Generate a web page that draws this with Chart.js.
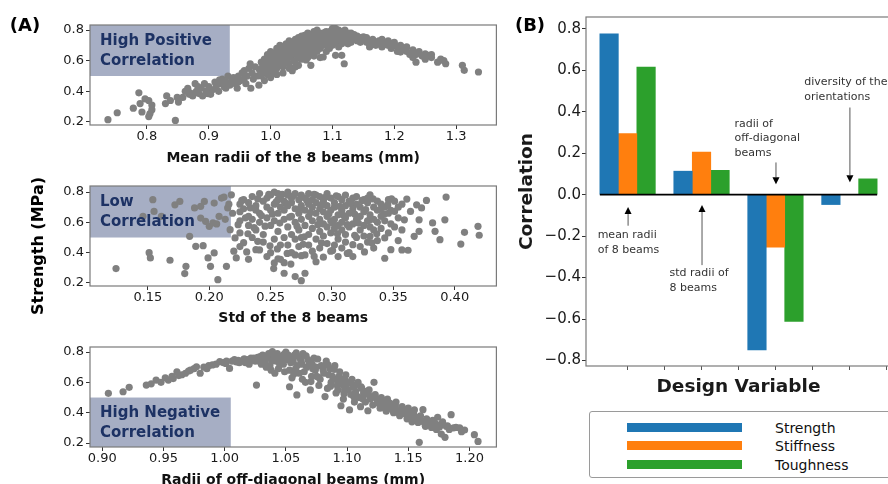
<!DOCTYPE html>
<html><head><meta charset="utf-8">
<script src="https://cdn.jsdelivr.net/npm/chart.js@4.4.0/dist/chart.umd.min.js"></script>
<style>
html,body{margin:0;padding:0;background:#fff;}
#wrap{position:relative;width:888px;height:484px;overflow:hidden;background:#fff;font-family:"DejaVu Sans",sans-serif;}
canvas{position:absolute;}
.lbl{position:absolute;white-space:nowrap;color:#000;line-height:1;}
.c{transform:translate(-50%,-50%);}
#legend{position:absolute;left:589px;top:411px;width:320px;height:67px;border:1px solid #9a9a9a;border-radius:3px;box-sizing:border-box;}
.lbar{position:absolute;left:37px;width:115px;height:9px;}
.ltxt{position:absolute;left:185px;font-size:14px;line-height:1;color:#111;transform:translateY(-50%);}
</style></head><body>
<div id="wrap">
<canvas id="a1" width="500" height="175" style="left:0;top:0"></canvas>
<canvas id="a2" width="500" height="175" style="left:0;top:161px"></canvas>
<canvas id="a3" width="500" height="175" style="left:0;top:322px"></canvas>
<canvas id="b" width="400" height="410" style="left:500px;top:0"></canvas>
<div class="lbl c" style="left:25px;top:25px;font-size:18px;font-weight:bold">(A)</div>
<div class="lbl c" style="left:530px;top:25px;font-size:18px;font-weight:bold">(B)</div>
<div class="lbl" style="left:38px;top:246px;font-size:16px;font-weight:bold;transform:translate(-50%,-50%) rotate(-90deg)">Strength (MPa)</div>
<div id="legend"></div>
</div>
<script>
// ---------------- DATA ----------------
const meanRadiiPts = [
[0.737,0.215],[0.752,0.26],[0.778,0.29],[0.787,0.39],[0.789,0.32],[0.792,0.265],[0.797,0.35],[0.803,0.34],[0.803,0.235],[0.805,0.255],[0.808,0.31],[0.808,0.28],[0.830,0.32],[0.832,0.37],[0.838,0.34],[0.846,0.21],[0.849,0.36],[0.851,0.33],
[0.858,0.36],[0.862,0.40],[0.866,0.42],[0.870,0.39],[0.874,0.37],[0.878,0.45],[0.880,0.40],[0.884,0.385],[0.888,0.42],[0.890,0.37],[0.893,0.45],[0.896,0.40],[0.900,0.43],[0.903,0.38],[0.906,0.41],[0.910,0.46],[0.912,0.43],[0.916,0.40],[0.919,0.45],[0.922,0.48],[0.925,0.43],[0.928,0.46],[0.931,0.50],[0.934,0.44],[0.937,0.47],[0.940,0.49],[0.943,0.45],[0.946,0.42],[0.948,0.50],[0.951,0.47],[0.954,0.52],[0.957,0.48],[0.960,0.45],[0.962,0.50],[0.965,0.55],[0.967,0.58],[0.968,0.42],[0.970,0.52],[0.972,0.48],[0.975,0.56],[0.978,0.50],[0.981,0.44],[0.982,0.54],
[0.985,0.50],[0.985,0.55],[0.985,0.59],[0.990,0.47],[0.990,0.53],[0.990,0.57],[0.990,0.61],[0.995,0.51],[0.995,0.56],[0.995,0.60],[0.995,0.64],
[1.000,0.49],[1.000,0.54],[1.000,0.58],[1.000,0.62],[1.000,0.66],[1.005,0.52],[1.005,0.57],[1.005,0.61],[1.005,0.65],
[1.010,0.51],[1.010,0.55],[1.010,0.60],[1.010,0.64],[1.010,0.68],[1.015,0.58],[1.015,0.62],[1.015,0.66],[1.015,0.70],
[1.020,0.52],[1.020,0.56],[1.020,0.61],[1.020,0.65],[1.020,0.69],[1.025,0.59],[1.025,0.63],[1.025,0.67],[1.025,0.71],
[1.030,0.55],[1.030,0.58],[1.030,0.62],[1.030,0.66],[1.030,0.70],[1.030,0.73],[1.035,0.535],[1.035,0.64],[1.035,0.68],[1.035,0.72],
[1.040,0.56],[1.040,0.60],[1.040,0.66],[1.040,0.70],[1.040,0.74],[1.045,0.57],[1.045,0.63],[1.045,0.67],[1.045,0.71],[1.045,0.75],
[1.050,0.61],[1.050,0.65],[1.050,0.69],[1.050,0.73],[1.050,0.76],[1.055,0.64],[1.055,0.68],[1.055,0.72],[1.055,0.765],
[1.060,0.62],[1.060,0.66],[1.060,0.70],[1.060,0.74],[1.060,0.78],[1.065,0.57],[1.065,0.65],[1.065,0.69],[1.065,0.73],[1.065,0.77],
[1.070,0.63],[1.070,0.67],[1.070,0.71],[1.070,0.75],[1.070,0.79],[1.075,0.66],[1.075,0.70],[1.075,0.74],[1.075,0.80],
[1.080,0.62],[1.080,0.68],[1.080,0.72],[1.080,0.76],[1.080,0.78],[1.085,0.624],[1.085,0.70],[1.085,0.74],[1.085,0.77],
[1.090,0.66],[1.090,0.71],[1.090,0.75],[1.090,0.79],[1.095,0.68],[1.095,0.73],[1.095,0.77],
[1.100,0.70],[1.100,0.74],[1.100,0.78],[1.100,0.81],[1.105,0.635],[1.105,0.72],[1.105,0.76],[1.105,0.81],
[1.110,0.69],[1.110,0.74],[1.110,0.78],[1.110,0.80],[1.115,0.635],[1.115,0.71],[1.115,0.76],[1.115,0.79],[1.119,0.58],
[1.120,0.73],[1.120,0.77],[1.120,0.80],[1.125,0.71],[1.125,0.75],[1.125,0.78],[1.130,0.72],[1.130,0.755],[1.130,0.78],
[1.135,0.74],[1.135,0.77],[1.140,0.73],[1.140,0.76],[1.145,0.72],[1.145,0.75],[1.150,0.74],[1.150,0.755],[1.155,0.72],[1.155,0.75],
[1.160,0.69],[1.160,0.73],[1.165,0.74],[1.170,0.72],[1.170,0.70],[1.175,0.73],[1.175,0.71],[1.180,0.69],[1.180,0.74],[1.185,0.72],
[1.190,0.70],[1.190,0.73],[1.195,0.68],[1.200,0.72],[1.200,0.70],[1.205,0.66],[1.205,0.69],[1.210,0.656],[1.210,0.70],[1.215,0.68],
[1.220,0.66],[1.220,0.69],[1.225,0.64],[1.230,0.67],[1.230,0.62],[1.235,0.59],[1.235,0.64],[1.240,0.66],[1.245,0.63],[1.250,0.645],
[1.250,0.61],[1.255,0.635],[1.260,0.64],[1.260,0.62],[1.270,0.59],[1.275,0.61],[1.280,0.60],[1.283,0.58],[1.310,0.57],[1.313,0.537],[1.336,0.526],
[0.9875,0.525],[0.9975,0.585],[1.0075,0.635],[1.0125,0.575],[1.0175,0.675],[1.0225,0.625],[1.0275,0.69],[1.0325,0.645],[1.0375,0.705],[1.0425,0.655],[1.0475,0.725],[1.0525,0.675],[1.0575,0.745],[1.0625,0.685],[1.0675,0.76],[1.0725,0.695],[1.0775,0.775],[1.0825,0.735],[1.0875,0.785],[1.0925,0.735],[1.0975,0.795],[1.1025,0.76],[1.1075,0.795],[1.1125,0.755],[1.1175,0.79],[1.1225,0.76],[1.1275,0.73],[1.0375,0.6],[1.0475,0.62],[1.0575,0.605],[1.0925,0.695],[0.9575,0.535],[0.9475,0.46],[0.9275,0.42],[0.9175,0.475],[0.8975,0.385],[0.8825,0.43],[0.8685,0.38],[1.1375,0.755],[1.1575,0.735],[1.1675,0.715],[1.1875,0.705],[1.1975,0.715]
];

const stdPts = [
[0.124,0.295],[0.146,0.64],[0.151,0.40],[0.152,0.365],[0.154,0.75],[0.155,0.672],[0.161,0.64],[0.168,0.35],[0.172,0.716],[0.176,0.738],[0.180,0.262],[0.181,0.31],[0.184,0.508],[0.188,0.695],[0.189,0.442],[0.193,0.706],[0.193,0.628],[0.195,0.446],[0.196,0.738],[0.197,0.607],[0.199,0.365],[0.200,0.574],[0.201,0.31],[0.204,0.398],[0.203,0.596],[0.204,0.727],[0.207,0.222],[0.208,0.64],[0.210,0.76],[0.212,0.767],[0.214,0.31],[0.215,0.695],[0.218,0.782],[0.217,0.552],[0.219,0.66],[0.221,0.497],[0.220,0.41],[0.222,0.365],[0.213,0.62],[0.206,0.59],[0.216,0.72],
[0.225,0.61],[0.225,0.67],[0.225,0.72],[0.225,0.53],[0.225,0.44],[0.228,0.466],[0.228,0.69],[0.228,0.75],
[0.232,0.356],[0.232,0.58],[0.232,0.64],[0.232,0.73],[0.235,0.50],[0.235,0.62],[0.235,0.77],
[0.238,0.42],[0.238,0.55],[0.238,0.68],[0.238,0.71],[0.241,0.418],[0.241,0.60],[0.241,0.66],[0.241,0.79],
[0.244,0.47],[0.244,0.52],[0.244,0.74],[0.247,0.374],[0.247,0.63],[0.247,0.70],[0.247,0.76],
[0.250,0.40],[0.250,0.58],[0.250,0.68],[0.250,0.78],[0.253,0.332],[0.253,0.49],[0.253,0.61],[0.253,0.72],[0.253,0.80],
[0.256,0.36],[0.256,0.54],[0.256,0.66],[0.256,0.75],[0.256,0.79],[0.258,0.356],[0.258,0.45],[0.258,0.70],[0.258,0.77],
[0.261,0.264],[0.261,0.334],[0.261,0.50],[0.261,0.62],[0.261,0.68],[0.261,0.74],[0.264,0.45],[0.264,0.57],[0.264,0.71],[0.264,0.78],[0.264,0.80],
[0.267,0.40],[0.267,0.52],[0.267,0.64],[0.267,0.73],[0.267,0.76],[0.270,0.242],[0.270,0.385],[0.270,0.49],[0.270,0.60],[0.270,0.69],[0.270,0.79],
[0.273,0.44],[0.273,0.55],[0.273,0.66],[0.273,0.75],[0.275,0.215],[0.275,0.38],[0.275,0.50],[0.275,0.62],[0.275,0.71],[0.275,0.78],
[0.278,0.264],[0.278,0.385],[0.278,0.58],[0.278,0.68],[0.278,0.76],[0.281,0.45],[0.281,0.52],[0.281,0.64],[0.281,0.72],[0.281,0.79],
[0.284,0.41],[0.284,0.56],[0.284,0.61],[0.284,0.70],[0.284,0.75],[0.287,0.34],[0.287,0.49],[0.287,0.66],[0.287,0.73],[0.287,0.78],
[0.290,0.43],[0.290,0.54],[0.290,0.62],[0.290,0.69],[0.290,0.77],[0.293,0.37],[0.293,0.51],[0.293,0.59],[0.293,0.67],[0.293,0.74],
[0.296,0.46],[0.296,0.57],[0.296,0.64],[0.296,0.71],[0.296,0.79],[0.299,0.41],[0.299,0.53],[0.299,0.61],[0.299,0.68],[0.299,0.76],
[0.302,0.45],[0.302,0.56],[0.302,0.62],[0.302,0.70],[0.302,0.73],[0.305,0.374],[0.305,0.49],[0.305,0.58],[0.305,0.65],[0.305,0.77],
[0.308,0.43],[0.308,0.55],[0.308,0.60],[0.308,0.68],[0.308,0.75],[0.311,0.47],[0.311,0.52],[0.311,0.63],[0.311,0.71],[0.311,0.78],
[0.314,0.40],[0.314,0.57],[0.314,0.66],[0.314,0.74],[0.317,0.374],[0.317,0.453],[0.317,0.59],[0.317,0.69],[0.317,0.76],
[0.320,0.50],[0.320,0.62],[0.320,0.72],[0.320,0.77],[0.323,0.44],[0.323,0.55],[0.323,0.64],[0.323,0.70],
[0.326,0.51],[0.326,0.58],[0.326,0.67],[0.326,0.75],[0.329,0.47],[0.329,0.61],[0.329,0.73],[0.329,0.76],
[0.331,0.508],[0.331,0.57],[0.331,0.65],[0.331,0.782],[0.334,0.43],[0.334,0.55],[0.334,0.62],[0.334,0.70],
[0.337,0.48],[0.337,0.60],[0.337,0.68],[0.337,0.74],[0.340,0.56],[0.340,0.64],[0.340,0.72],
[0.343,0.363],[0.343,0.497],[0.343,0.61],[0.343,0.70],[0.346,0.53],[0.346,0.66],[0.346,0.75],
[0.348,0.42],[0.348,0.59],[0.348,0.68],[0.351,0.672],[0.351,0.57],[0.351,0.74],[0.354,0.48],[0.354,0.63],[0.354,0.70],[0.357,0.418],[0.357,0.55],[0.357,0.72],
[0.359,0.617],[0.361,0.754],[0.362,0.416],[0.364,0.672],[0.367,0.508],[0.369,0.716],[0.371,0.617],[0.371,0.541],[0.373,0.695],[0.377,0.745],[0.382,0.596],[0.384,0.541],[0.388,0.486],[0.392,0.617],[0.393,0.767],[0.405,0.457],[0.408,0.534],[0.419,0.574],[0.420,0.515],
[0.2235,0.585],[0.2265,0.745],[0.2295,0.63],[0.2305,0.405],[0.2335,0.695],[0.2365,0.565],[0.2395,0.755],[0.2425,0.645],[0.2455,0.575],[0.2485,0.785],[0.2515,0.655],[0.2545,0.735],[0.2555,0.425],[0.2575,0.595],[0.2595,0.785],[0.2625,0.725],[0.2655,0.635],[0.2685,0.775],[0.2715,0.575],[0.2745,0.695],[0.2765,0.455],[0.2795,0.745],[0.2825,0.665],[0.2855,0.785],[0.2885,0.585],[0.2915,0.715],[0.2945,0.765],[0.2975,0.655],[0.3005,0.595],[0.3035,0.775],[0.3065,0.705],[0.3095,0.645],[0.3125,0.585],[0.3155,0.725],[0.3185,0.655],[0.3215,0.595],[0.3245,0.745],[0.3275,0.685],[0.3305,0.615],[0.3335,0.755],[0.3365,0.525],[0.3395,0.685],[0.3425,0.655],[0.3455,0.715],[0.3485,0.755],[0.2495,0.445],[0.2635,0.395],[0.2775,0.505],[0.2915,0.465],[0.3045,0.525],[0.3185,0.515],[0.3325,0.465],[0.3005,0.415],[0.2855,0.375],[0.2665,0.325],[0.2525,0.295],[0.3125,0.395],[0.3265,0.405],[0.2395,0.475],[0.2315,0.525]
];

const offDiagPts = [
[0.905,0.528],[0.917,0.538],[0.922,0.567],[0.936,0.582],[0.940,0.59],[0.944,0.615],[0.948,0.60],[0.954,0.615],[0.957,0.64],[0.961,0.67],[0.958,0.625],[0.965,0.65],[0.968,0.66],[0.972,0.68],[0.975,0.69],[0.977,0.703],[0.980,0.66],[0.983,0.70],[0.987,0.71],[0.990,0.715],[0.993,0.72],[0.996,0.736],[0.999,0.73],[1.001,0.725],[1.004,0.692],[1.006,0.74],[1.008,0.75],[1.011,0.745],[1.014,0.74],[1.017,0.73],[1.019,0.75],[1.022,0.745],[1.024,0.76],[1.026,0.582],[1.027,0.765],[1.029,0.77],[1.031,0.78],[1.033,0.73],[1.035,0.76],[1.037,0.71],[1.039,0.802],[1.041,0.66],[1.042,0.74],[1.044,0.69],[1.046,0.77],[1.048,0.72],[1.050,0.80],[1.051,0.75],[1.053,0.571],[1.053,0.68],[1.055,0.63],[1.057,0.78],[1.059,0.517],[1.059,0.71],[1.061,0.66],[1.062,0.75],[1.064,0.79],[1.066,0.60],[1.067,0.70],[1.069,0.73],[1.070,0.55],[1.071,0.64],[1.073,0.76],[1.074,0.68],[1.076,0.754],[1.077,0.58],[1.078,0.62],[1.079,0.71],[1.081,0.66],[1.082,0.506],[1.083,0.74],[1.084,0.56],[1.086,0.69],[1.087,0.60],[1.088,0.64],[1.090,0.71],[1.091,0.53],[1.092,0.58],[1.094,0.67],[1.095,0.446],[1.096,0.62],[1.097,0.49],[1.098,0.55],[1.099,0.65],[1.100,0.59],[1.102,0.418],[1.103,0.52],[1.104,0.62],[1.105,0.57],[1.106,0.47],[1.107,0.54],[1.109,0.60],[1.110,0.50],[1.111,0.44],[1.112,0.56],[1.114,0.52],[1.115,0.47],[1.117,0.413],[1.118,0.55],[1.119,0.49],[1.121,0.45],[1.122,0.60],[1.123,0.52],[1.125,0.47],[1.127,0.43],[1.128,0.50],[1.130,0.46],[1.132,0.41],[1.133,0.49],[1.135,0.44],[1.136,0.457],[1.138,0.40],[1.140,0.47],[1.141,0.413],[1.143,0.38],[1.145,0.44],[1.147,0.41],[1.149,0.36],[1.150,0.43],[1.152,0.37],[1.154,0.40],[1.155,0.418],[1.156,0.35],[1.158,0.336],[1.159,0.205],[1.160,0.38],[1.162,0.42],[1.163,0.336],[1.165,0.36],[1.167,0.32],[1.169,0.303],[1.170,0.35],[1.172,0.33],[1.174,0.37],[1.177,0.259],[1.178,0.34],[1.180,0.238],[1.181,0.31],[1.182,0.314],[1.185,0.387],[1.187,0.30],[1.189,0.303],[1.192,0.30],[1.196,0.286],[1.204,0.255],[1.207,0.211],
[1.032,0.75],[1.036,0.79],[1.040,0.77],[1.043,0.79],[1.047,0.745],[1.052,0.78],[1.056,0.74],[1.060,0.77],[1.063,0.72],[1.068,0.75],[1.072,0.69],[1.080,0.70],[1.085,0.65],[1.089,0.62],[1.093,0.60],[1.097,0.58],[1.101,0.55],[1.108,0.51],[1.113,0.49],[1.116,0.54],[1.120,0.50],[1.126,0.46],[1.131,0.44],[1.137,0.42],[1.142,0.40],[1.148,0.39],[1.153,0.34],[1.157,0.37],[1.164,0.31],[1.168,0.34],[1.173,0.29],[1.176,0.32],[1.030,0.72],[1.028,0.74],[1.034,0.70],[1.038,0.68],[1.045,0.72],[1.049,0.67],[1.054,0.73],[1.058,0.69],[1.065,0.67],[1.075,0.64],[1.012,0.73],[1.016,0.755],[1.020,0.72],[1.025,0.74],
[1.0015,0.74],[1.0095,0.735],[1.0155,0.75],[1.0215,0.76],[1.0265,0.75],[1.0345,0.775],[1.0385,0.74],[1.0445,0.76],[1.0485,0.785],[1.0545,0.76],[1.0585,0.795],[1.0625,0.735],[1.0665,0.775],[1.0715,0.72],[1.0745,0.70],[1.0805,0.68],[1.0845,0.715],[1.0895,0.685],[1.0935,0.64],[1.0985,0.615],[1.1025,0.60],[1.1065,0.58],[1.1115,0.57],[1.1135,0.53],[1.1185,0.51],[1.1245,0.49],[1.1295,0.48],[1.1345,0.465],[1.1395,0.445],[1.1445,0.425],[1.1495,0.40],[1.1545,0.385],[1.1595,0.355],[1.1645,0.35],[1.1705,0.325],[1.1755,0.305],[1.1835,0.29],[1.1935,0.275],[0.9515,0.63],[0.9625,0.645],[0.9705,0.675],[0.9855,0.69],[1.0565,0.655],[1.0635,0.62],[1.0705,0.605],[1.0765,0.635],[1.0865,0.575],[1.0925,0.55],[1.0975,0.525],[1.1055,0.505]
];

const designVars = ["mean radii of 8 beams","std radii of 8 beams","radii of off-diagonal beams","diversity of the orientations"];
const groupPos = [0, 2, 4, 6];
const seriesNames = ["Strength","Stiffness","Toughness"];
const strengthCorr  = [0.775, 0.113, -0.749, -0.048];
const stiffnessCorr = [0.294, 0.205, -0.254, 0.0];
const toughnessCorr = [0.615, 0.117, -0.612, 0.076];
const corrTicks = [-0.8,-0.6,-0.4,-0.2,0.0,0.2,0.4,0.6,0.8];

const annLines = [["mean radii","of 8 beams"],["std radii of","8 beams"],["radii of","off-diagonal","beams"],["diversity of the","orientations"]];
const annTip  = [[0,-0.06],[2,-0.05],[4,0.05],[6,0.06]];
const annTail = [[0,-0.15],[2,-0.34],[4,0.155],[6,0.42]];
const annText = [[-0.81,-0.197],[1.135,-0.381],[2.89,0.342],[4.78,0.54]];

// ---------------- STYLE ----------------
const COLORS = ["#1f77b4","#ff7f0e","#2ca02c"];
const PT = "#808080";
const BOX_FILL = "#a6aec4";
const BOX_TXT = "#1d3264";
const FRAME = "#7a7a7a";
const FONT = "'DejaVu Sans', sans-serif";
Chart.defaults.font.family = FONT;
Chart.defaults.color = "#111";

const decoPlugin = {
  id: 'deco',
  beforeDatasetsDraw(chart, args, o) {
    if (!o || !o.box) return;
    const {ctx, chartArea: ca, scales} = chart;
    const b = o.box;
    const x0 = b.x0 == null ? ca.left : scales.x.getPixelForValue(b.x0);
    const x1 = b.x1 == null ? ca.right : scales.x.getPixelForValue(b.x1);
    const yb = b.y0 == null ? ca.bottom : scales.y.getPixelForValue(b.y0);
    const yt = b.y1 == null ? ca.top : scales.y.getPixelForValue(b.y1);
    ctx.save(); ctx.fillStyle = BOX_FILL; ctx.fillRect(x0, yt, x1 - x0, yb - yt); ctx.restore();
  },
  afterDatasetsDraw(chart, args, o) {
    const {ctx, chartArea: ca, scales} = chart;
    ctx.save();
    if (o && o.box) {
      const b = o.box;
      const x0 = b.x0 == null ? ca.left : scales.x.getPixelForValue(b.x0);
      const yt = b.y1 == null ? ca.top : scales.y.getPixelForValue(b.y1);
      ctx.fillStyle = BOX_TXT; ctx.font = "bold 15px " + FONT;
      ctx.textBaseline = 'middle'; ctx.textAlign = 'left';
      b.lines.forEach((t, i) => ctx.fillText(t, x0 + 10, yt + 16 + i * 20));
    }
    if (o && o.ann) {
      const sx = scales.x, sy = scales.y;
      ctx.font = "11px " + FONT; ctx.fillStyle = "#333"; ctx.textBaseline = 'middle'; ctx.textAlign = 'left';
      o.ann.lines.forEach((ls, k) => {
        const tx = sx.getPixelForValue(o.ann.text[k][0]);
        const ty = sy.getPixelForValue(o.ann.text[k][1]);
        ls.forEach((t, i) => ctx.fillText(t, tx, ty + i * 14.5));
        const ax = sx.getPixelForValue(o.ann.tail[k][0]), ay = sy.getPixelForValue(o.ann.tail[k][1]);
        const bx = sx.getPixelForValue(o.ann.tip[k][0]), by = sy.getPixelForValue(o.ann.tip[k][1]);
        const dir = Math.sign(by - ay);
        const hl = 7, hw = 3.5;
        ctx.strokeStyle = "#555"; ctx.lineWidth = 1;
        ctx.beginPath(); ctx.moveTo(ax + 0.5, ay); ctx.lineTo(bx + 0.5, by - dir * hl); ctx.stroke();
        ctx.fillStyle = "#000";
        ctx.beginPath(); ctx.moveTo(bx + 0.5, by); ctx.lineTo(bx + 0.5 - hw, by - dir * hl); ctx.lineTo(bx + 0.5 + hw, by - dir * hl); ctx.closePath(); ctx.fill();
        ctx.fillStyle = "#333";
      });
    }
    ctx.strokeStyle = FRAME; ctx.lineWidth = 1.2;
    ctx.strokeRect(ca.left, ca.top, ca.right - ca.left, ca.bottom - ca.top);
    ctx.restore();
  }
};

function fmt(v, d) { const s = Math.abs(v).toFixed(d); return (v < -1e-9 ? "\u2212" : "") + s; }

function scatter(id, pts, xc, yc, box, titlePad) {
  new Chart(document.getElementById(id), {
    type: 'scatter',
    data: { datasets: [{ data: pts.map(p => ({x: p[0], y: p[1]})), backgroundColor: PT, borderWidth: 0, pointRadius: 3.6, pointHoverRadius: 3.6 }] },
    options: {
      responsive: false, animation: false, devicePixelRatio: 1,
      layout: { padding: { top: 25, right: 3, left: 0, bottom: 0 } },
      plugins: { legend: { display: false }, tooltip: { enabled: false }, deco: { box } },
      events: [],
      scales: {
        x: {
          type: 'linear', min: xc.min, max: xc.max, afterFit: s => { s.height = 50; },
          border: { display: false },
          grid: { drawOnChartArea: false, tickLength: 4, color: '#333' },
          ticks: { stepSize: xc.step, includeBounds: false, autoSkip: false, maxRotation: 0, padding: 0,
                   font: { size: 13, lineHeight: 1.1 }, color: '#1a1a1a', callback: v => fmt(v, xc.dec) },
          title: { display: true, text: xc.title, font: { size: 14, weight: 'bold' }, color: '#111', padding: { top: 0, bottom: titlePad } }
        },
        y: {
          type: 'linear', min: yc.min, max: yc.max, afterFit: s => { s.width = 90; },
          border: { display: false },
          grid: { drawOnChartArea: false, tickLength: 4, color: '#333' },
          ticks: { stepSize: 0.2, includeBounds: false, autoSkip: false, padding: 2,
                   font: { size: 13 }, color: '#1a1a1a', callback: v => fmt(v, 1) }
        }
      }
    },
    plugins: [decoPlugin]
  });
}

scatter('a1', meanRadiiPts, {min: 0.708, max: 1.365, step: 0.1, dec: 1, title: 'Mean radii of the 8 beams (mm)'},
        {min: 0.18, max: 0.833}, {x0: null, x1: 0.934, y0: 0.5, y1: null, lines: ['High Positive', 'Correlation']}, 8.6);
scatter('a2', stdPts, {min: 0.1028, max: 0.434, step: 0.05, dec: 2, title: 'Std of the 8 beams'},
        {min: 0.18, max: 0.84}, {x0: null, x1: 0.2176, y0: 0.5, y1: null, lines: ['Low', 'Correlation']}, 9.6);
scatter('a3', offDiagPts, {min: 0.890, max: 1.222, step: 0.05, dec: 2, title: 'Radii of off-diagonal beams (mm)'},
        {min: 0.174, max: 0.833}, {x0: null, x1: 1.005, y0: null, y1: 0.5, lines: ['High Negative', 'Correlation']}, 8.6);

// ---------------- BAR CHART ----------------
const barSets = [strengthCorr, stiffnessCorr, toughnessCorr].map((vals, i) => ({
  type: 'bar', label: seriesNames[i], order: 1,
  data: vals.map((v, k) => ({x: groupPos[k], y: v})),
  backgroundColor: COLORS[i], borderWidth: 0, barThickness: 18.5
}));
const halfSpan = 0.75;
barSets.push({
  type: 'line', label: 'zero', order: 0,
  data: [{x: groupPos[0] - halfSpan, y: 0}, {x: groupPos[groupPos.length - 1] + halfSpan, y: 0}],
  borderColor: '#000', borderWidth: 1.6, pointRadius: 0, fill: false
});

new Chart(document.getElementById('b'), {
  type: 'bar',
  data: { datasets: barSets },
  options: {
    responsive: false, animation: false, devicePixelRatio: 1, events: [],
    layout: { padding: { top: 17, right: 9, left: 0, bottom: 0 } },
    plugins: { legend: { display: false }, tooltip: { enabled: false },
      deco: { ann: { lines: annLines, tip: annTip, tail: annTail, text: annText } } },
    scales: {
      x: {
        type: 'linear', min: -1.125, max: 7.125, offset: false, afterFit: s => { s.height = 44; },
        afterBuildTicks: s => { s.ticks = s.ticks.filter(t => t.value >= 0 && t.value <= 7); },
        border: { display: false },
        grid: { drawOnChartArea: false, tickLength: 4, color: '#555', offset: false },
        ticks: { stepSize: 1, includeBounds: false, autoSkip: false, callback: () => '' },
        title: { display: true, text: 'Design Variable', font: { size: 18.5, weight: 'bold' }, color: '#1a1a1a', padding: { top: 0, bottom: 12 } }
      },
      y: {
        type: 'linear', min: -0.8265, max: 0.8565, afterFit: s => { s.width = 86; },
        afterBuildTicks: s => { s.ticks = corrTicks.map(v => ({value: v})); },
        border: { display: false },
        grid: { drawOnChartArea: false, tickLength: 4, color: '#333' },
        ticks: { autoSkip: false, padding: 1, font: { size: 15 }, color: '#1a1a1a', callback: v => fmt(v, 1) },
        title: { display: true, text: 'Correlation', font: { size: 18.5, weight: 'bold' }, color: '#1a1a1a', padding: { top: 16, bottom: 0 } }
      }
    }
  },
  plugins: [decoPlugin]
});

// ---------------- LEGEND ----------------
const lg = document.getElementById('legend');
const rowY = [16, 34, 53];
seriesNames.forEach((n, i) => {
  const b = document.createElement('div'); b.className = 'lbar';
  b.style.top = (rowY[i] - 5) + 'px'; b.style.background = COLORS[i]; lg.appendChild(b);
  const t = document.createElement('div'); t.className = 'ltxt'; t.style.top = rowY[i] + 'px'; t.textContent = n; lg.appendChild(t);
});
</script>
</body></html>
